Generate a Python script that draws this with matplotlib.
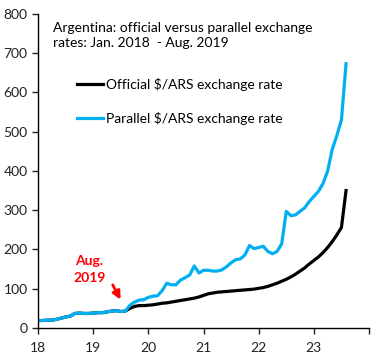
import numpy as np
import matplotlib
matplotlib.use("Agg")
import matplotlib.pyplot as plt

# monthly data, Jan 2018 .. Aug 2023
start_year = 18
official = [19, 19, 20, 20, 22, 25, 28, 30, 37, 38, 37, 37,
            38, 39, 39, 41, 43, 44, 42, 43, 50, 55, 57, 57,
            58, 59, 61, 63, 64, 66, 68, 70, 72, 74, 76, 79,
            83, 87, 89, 91, 92, 93, 94, 95, 96, 97, 98, 99,
            101, 103, 106, 110, 114, 119, 124, 130, 137, 145, 153, 163,
            172, 181, 192, 205, 220, 237, 256, 350]
parallel = [19, 19, 20, 20, 22, 25, 28, 30, 37, 38, 37, 37,
            38, 39, 39, 41, 43, 44, 42, 43, 58, 66, 71, 72,
            78, 81, 82, 95, 114, 110, 110, 122, 128, 135, 158, 140,
            147, 147, 145, 145, 148, 156, 166, 174, 176, 186, 210, 202,
            205, 208, 195, 189, 195, 214, 297, 286, 288, 297, 306, 322,
            335, 348, 368, 400, 455, 490, 530, 673]
xtick_vals = [18, 19, 20, 21, 22, 23, 24]
xtick_labels = ["18", "19", "20", "21", "22", "23", ""]

months = start_year + np.arange(len(official)) / 12

plt.rcParams["font.family"] = ["Lato", "DejaVu Sans"]
fig = plt.figure(figsize=(3.84, 3.59), dpi=100)
ax = fig.add_axes([0.099, 0.0864, 0.862, 0.875])

ax.plot(months, official, color="black", lw=2.3, label="Official $/ARS exchange rate")
ax.plot(months, parallel, color="#00B0F0", lw=2.3, label="Parallel $/ARS exchange rate")

ax.set_xlim(18, 24)
ax.set_ylim(0, 800)
ax.set_yticks(range(0, 801, 100))
ax.set_xticks(xtick_vals)
ax.set_xticklabels(xtick_labels)
for s in ["top", "right"]:
    ax.spines[s].set_visible(False)
for s in ["left", "bottom"]:
    ax.spines[s].set_linewidth(1.0)
ax.tick_params(direction="out", length=4, width=1.0, labelsize=10, colors="#222222")
ax.tick_params(axis="x", pad=6)

ax.text(0.045, 0.975, "Argentina: official versus parallel exchange\nrates: Jan. 2018  - Aug. 2019",
        transform=ax.transAxes, fontsize=10, va="top", ha="left", linespacing=1.3)

ax.legend(loc="upper left", bbox_to_anchor=(0.08, 0.835), frameon=False, fontsize=10,
          handlelength=1.9, handletextpad=0.2, labelspacing=1.5)

ax.annotate("", xy=(19.52, 66), xytext=(19.33, 116),
            arrowprops=dict(arrowstyle="-|>", color="red", lw=2, mutation_scale=12))
ax.text(18.93, 150, "Aug.\n2019", color="red", fontweight="bold", fontsize=10,
        ha="center", va="center", linespacing=1.5)

fig.savefig("out.png", dpi=100)
